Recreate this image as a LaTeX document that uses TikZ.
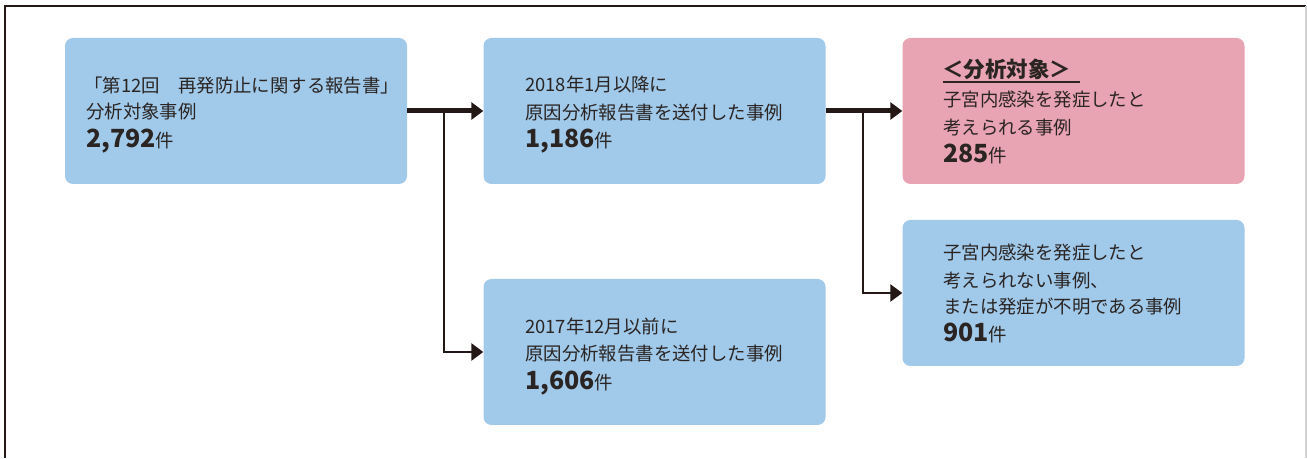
\documentclass[tikz,border=0pt]{standalone}
\usepackage{fontspec}
\usetikzlibrary{arrows.meta}
\newfontfamily\jp{Noto Sans CJK JP}
\definecolor{boxblue}{HTML}{A0C9EA}
\definecolor{boxpink}{HTML}{E8A4B2}
\definecolor{ink}{HTML}{231815}
\definecolor{txt}{HTML}{2A2422}
\tikzset{
  x=1pt, y=1pt,
  box/.style={rounded corners=8pt, minimum width=342pt, minimum height=146pt, inner sep=0pt, draw=none},
  bluebox/.style={box, fill=boxblue},
  pinkbox/.style={box, fill=boxpink},
  line/.style={anchor=base west, inner sep=0pt, font=\jp\fontsize{18.4}{20}\selectfont, text=txt},
  num/.style={anchor=base west, inner sep=0pt, font=\jp\fontsize{18.4}{20}\selectfont, text=txt},
  thick conn/.style={draw=ink, line width=5pt, -{Triangle[length=12pt,width=17pt]}},
  thin conn/.style={draw=ink, line width=2.6pt, -{Triangle[length=12pt,width=17pt]}},
}
\newcommand{\bignum}[1]{{\bfseries\fontsize{25}{26}\selectfont #1}件}
\begin{document}
\begin{tikzpicture}
\useasboundingbox (0,0) rectangle (1307,458);
% frame
\draw[ink, line width=1.6pt] (5,0) -- (5,452) -- (1306,452);
\draw[black!18, line width=1.2pt] (1306,452) -- (1306,0);
% boxes
\node[bluebox] (b1) at (236,347) {};
\node[bluebox] (b2) at (654.5,347) {};
\node[pinkbox] (b3) at (1073.5,347) {};
\node[bluebox] (b4) at (1073.5,165) {};
\node[bluebox] (b5) at (654.5,106) {};
% box1 text
\node[line] (t11) at (84,365) {「第12回　再発防止に関する報告書」};
\node[line] (t12) at (86,339) {分析対象事例};
\node[num] (t13) at (86,310) {\bignum{2,792}};
% box2 text
\node[line] (t21) at (525,366) {2018年1月以降に};
\node[line] (t22) at (525,338) {原因分析報告書を送付した事例};
\node[num] (t23) at (525,310) {\bignum{1,186}};
% box3 text
\node[line, font=\jp\bfseries\fontsize{21.5}{22}\selectfont] (t31) at (942,380) {＜分析対象＞};
\draw[txt, line width=1.2pt] (943,376) -- (1080,376);
\node[line] (t32) at (943,351) {子宮内感染を発症したと};
\node[line] (t33) at (943,323) {考えられる事例};
\node[num] (t34) at (943,295) {\bignum{285}};
% box4 text
\node[line] (t41) at (943,198) {子宮内感染を発症したと};
\node[line] (t42) at (943,170) {考えられない事例、};
\node[line] (t43) at (943,144) {または発症が不明である事例};
\node[num] (t44) at (943,116) {\bignum{901}};
% box5 text
\node[line] (t51) at (525,124) {2017年12月以前に};
\node[line] (t52) at (525,97) {原因分析報告書を送付した事例};
\node[num] (t53) at (525,68) {\bignum{1,606}};
% connectors
\coordinate (j1) at (444,347);
\coordinate (j2) at (863,347);
\draw[thick conn] (b1.east) -- (b2.west);
\draw[thick conn] (b2.east) -- (b3.west);
\draw[thin conn] (j1) |- (b5.west);
\draw[thin conn] (j2) |- (b4.west);
\end{tikzpicture}
\end{document}
